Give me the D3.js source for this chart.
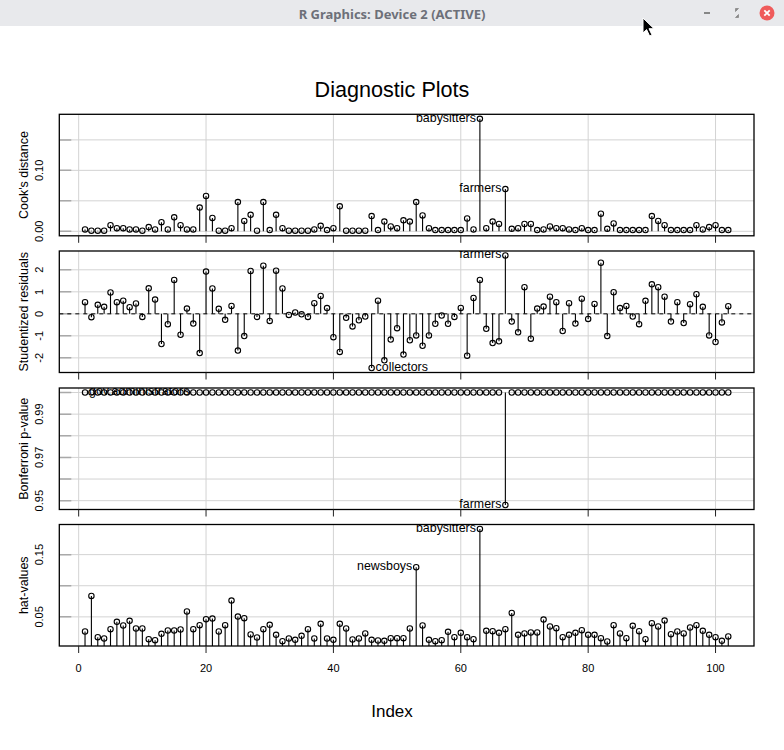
<!DOCTYPE html>
<html><head><meta charset="utf-8">
<script src="https://cdn.jsdelivr.net/npm/d3@7"></script>
<style>body{margin:0;background:#fff;overflow:hidden}</style>
</head><body>
<svg id="c" width="784" height="750"></svg>
<script>
// ---- data (observation index 1..102) ----
const cook = [0.003,0.001,0.001,0.001,0.010,0.005,0.005,0.003,0.003,0.001,
0.007,0.003,0.015,0.003,0.023,0.010,0.003,0.003,0.039,0.058,
0.022,0.001,0.001,0.005,0.048,0.017,0.027,0.001,0.048,0.002,
0.027,0.005,0.001,0.001,0.001,0.001,0.003,0.009,0.002,0.005,
0.041,0.001,0.001,0.001,0.001,0.025,0.002,0.016,0.008,0.005,
0.018,0.016,0.048,0.026,0.005,0.002,0.002,0.002,0.002,0.002,
0.021,0.003,0.1846,0.005,0.016,0.012,0.0693,0.004,0.005,0.012,
0.012,0.002,0.003,0.008,0.005,0.005,0.003,0.002,0.005,0.002,
0.002,0.029,0.004,0.013,0.002,0.002,0.002,0.002,0.002,0.025,
0.017,0.010,0.002,0.002,0.002,0.002,0.010,0.003,0.007,0.010,
0.002,0.002];
const rstud = [0.53,-0.15,0.41,0.32,0.97,0.53,0.60,0.30,0.47,-0.14,
1.16,0.65,-1.37,-0.47,1.54,-0.95,0.24,-0.44,-1.78,1.92,
1.15,0.23,-0.27,0.36,-1.67,-1.01,1.95,-0.14,2.19,-0.32,
1.96,1.15,-0.05,0.06,-0.02,-0.14,0.48,0.81,0.26,-1.06,
-1.73,-0.18,-0.57,-0.29,-0.12,-2.46,0.60,-2.11,-1.17,-0.65,
-1.85,-1.20,-0.98,-1.45,-0.98,-0.45,-0.08,-0.45,-0.14,0.27,
-1.90,0.72,1.54,-0.68,-1.33,-1.25,2.65,-0.35,-0.84,1.21,
-1.13,0.24,0.33,0.78,0.53,-0.78,0.48,-0.44,0.69,-0.23,
0.45,2.32,-1.01,0.98,0.26,0.36,-0.12,-0.47,0.59,1.34,
1.21,0.78,-0.35,0.53,-0.42,0.44,0.89,0.32,-0.98,-1.28,
-0.39,0.35];
const bonf = [1,1,1,1,1,1,1,1,1,1,
1,1,1,1,1,1,1,1,1,1,
1,1,1,1,1,1,1,1,1,1,
1,1,1,1,1,1,1,1,1,1,
1,1,1,1,1,1,1,1,1,1,
1,1,1,1,1,1,1,1,1,1,
1,1,1,1,1,1,0.948,1,1,1,
1,1,1,1,1,1,1,1,1,1,
1,1,1,1,1,1,1,1,1,1,
1,1,1,1,1,1,1,1,1,1,
1,1];
const hat = [0.0265,0.0837,0.0174,0.0152,0.0302,0.0420,0.0361,0.0436,0.0313,0.0313,
0.0142,0.0126,0.0227,0.0281,0.0281,0.0297,0.0586,0.0302,0.0366,0.0463,
0.0473,0.0265,0.0366,0.0762,0.0505,0.0479,0.0217,0.0168,0.0302,0.0372,
0.0211,0.0110,0.0152,0.0131,0.0195,0.0302,0.0152,0.0388,0.0152,0.0131,
0.0388,0.0313,0.0136,0.0152,0.0233,0.0131,0.0120,0.0115,0.0158,0.0158,
0.0158,0.0313,0.1297,0.0361,0.0131,0.0110,0.0126,0.0260,0.0174,0.0243,
0.0174,0.0142,0.1912,0.0275,0.0270,0.0243,0.0302,0.0564,0.0211,0.0233,
0.0249,0.0249,0.0457,0.0345,0.0318,0.0174,0.0211,0.0243,0.0286,0.0211,
0.0211,0.0158,0.0104,0.0366,0.0233,0.0158,0.0356,0.0270,0.0142,0.0398,
0.0345,0.0441,0.0222,0.0265,0.0233,0.0329,0.0366,0.0275,0.0211,0.0174,
0.0115,0.0185];

const xTicks = [0,20,40,60,80,100];
const xTickLabels = ["0","20","40","60","80","100"];
const cookTicks = [0,0.05,0.10,0.15];
const cookTickLabels = ["0.00","","0.10",""];
const rstudTicks = [-2,-1,0,1,2];
const rstudTickLabels = ["-2","-1","0","1","2"];
const bonfTicks = [0.95,0.96,0.97,0.98,0.99,1.00];
const bonfTickLabels = ["0.95","","0.97","","0.99",""];
const hatTicks = [0.05,0.10,0.15];
const hatTickLabels = ["0.05","","0.15"];

const cookIds = [[63,"babysitters"],[67,"farmers"]];
const rstudIds = [[67,"farmers"],[46,"collectors"]];
const bonfIds = [[67,"farmers"],[1,"gov.administrators"]];
const hatIds = [[63,"babysitters"],[53,"newsboys"]];

const panelNames = ["Cook's distance","Studentized residuals","Bonferroni p-value","hat-values"];
const mainTitle = "Diagnostic Plots";
const xLabel = "Index";

// ---- drawing ----
const svg = d3.select("#c");
const FONT = "'Liberation Sans', Arial, Helvetica, sans-serif";
const n = cook.length;
const idx = d3.range(1, n + 1);

// window title bar
svg.append("rect").attr("x",0).attr("y",0).attr("width",784).attr("height",26).attr("fill","#e8e9ec");
svg.append("text").attr("x",392).attr("y",18.5).attr("text-anchor","middle")
  .attr("font-family","'Noto Sans', 'Open Sans', sans-serif").attr("font-weight","bold")
  .attr("font-size",13).attr("fill","#6d7079").text("R Graphics: Device 2 (ACTIVE)");
svg.append("line").attr("x1",704).attr("x2",710).attr("y1",13).attr("y2",13).attr("stroke","#666").attr("stroke-width",1.5);
svg.append("path").attr("d","M735.5,11.5 l3,-3 h-3 z M738.5,14.5 l-3,3 h3 z").attr("fill","#888").attr("stroke","#888").attr("stroke-width",0.8);
svg.append("circle").attr("cx",767).attr("cy",13).attr("r",7.5).attr("fill","#ef5b5b");
svg.append("path").attr("d","M764.3,10.3 L769.7,15.7 M769.7,10.3 L764.3,15.7").attr("stroke","#fff").attr("stroke-width",1.8);
svg.append("path").attr("d","M643,18 l0,15 l3.6,-3.4 l3,6.4 l2.4,-1.1 l-3,-6.2 l5,0 z")
  .attr("fill","#000").attr("stroke","#fff").attr("stroke-width",1);

const L = 59.3, R = 754;
const tops = [114.3, 251, 388, 524.5];
const H = 121.5;

const x = d3.scaleLinear().domain([1 - 0.04*(n-1), n + 0.04*(n-1)]).range([L, R]);

const panels = [
  {v: cook, ticks: cookTicks, labels: cookTickLabels, ids: cookIds, zeroMin: true, base: 0},
  {v: rstud, ticks: rstudTicks, labels: rstudTickLabels, ids: rstudIds, base: 0, dash: true},
  {v: bonf, ticks: bonfTicks, labels: bonfTickLabels, ids: bonfIds, base: 1},
  {v: hat, ticks: hatTicks, labels: hatTickLabels, ids: hatIds, base: 0}
];

panels.forEach((p, k) => {
  const top = tops[k], bot = top + H;
  let lo = p.zeroMin ? 0 : d3.min(p.v), hi = d3.max(p.v);
  const pad = 0.04 * (hi - lo);
  const y = d3.scaleLinear().domain([lo - pad, hi + pad]).range([bot, top]);
  const g = svg.append("g");
  const cid = "clip" + k;
  svg.append("clipPath").attr("id", cid).append("rect").attr("x",L).attr("y",top).attr("width",R-L).attr("height",H);
  const inner = g.append("g").attr("clip-path", `url(#${cid})`);

  // grid
  inner.selectAll(".gv").data(xTicks).join("line")
    .attr("x1", d => x(d)).attr("x2", d => x(d)).attr("y1", top).attr("y2", bot)
    .attr("stroke","#d3d3d3").attr("stroke-width",1);
  inner.selectAll(".gh").data(p.ticks).join("line")
    .attr("x1", L).attr("x2", R).attr("y1", d => y(d)).attr("y2", d => y(d))
    .attr("stroke","#d3d3d3").attr("stroke-width",1);
  // y tick marks (inside)
  inner.selectAll(".yt").data(p.ticks).join("line")
    .attr("x1", L).attr("x2", L + 12).attr("y1", d => y(d)).attr("y2", d => y(d))
    .attr("stroke","#a9a9a9").attr("stroke-width",1.5);

  if (p.dash) {
    inner.append("line").attr("x1",L).attr("x2",R).attr("y1",y(0)).attr("y2",y(0))
      .attr("stroke","#000").attr("stroke-width",1).attr("stroke-dasharray","4,4");
  }
  // spikes
  inner.selectAll(".sp").data(idx).join("line")
    .attr("x1", i => x(i)).attr("x2", i => x(i))
    .attr("y1", y(p.base)).attr("y2", i => y(p.v[i-1]))
    .attr("stroke","#000").attr("stroke-width",1.1);
  // points
  inner.selectAll(".pt").data(idx).join("circle")
    .attr("cx", i => x(i)).attr("cy", i => y(p.v[i-1])).attr("r", 2.7)
    .attr("fill","none").attr("stroke","#000").attr("stroke-width",1.1);
  // id labels
  const mid = (1 + n) / 2;
  inner.selectAll(".lb").data(p.ids).join("text")
    .attr("x", d => d[0] > mid ? x(d[0]) - 4 : x(d[0]) + 4)
    .attr("y", d => y(p.v[d[0]-1])).attr("dy","0.24em")
    .attr("text-anchor", d => d[0] > mid ? "end" : "start")
    .attr("font-family", FONT).attr("font-size", 12.4).attr("fill","#000")
    .text(d => d[1]);

  // box
  g.append("rect").attr("x",L).attr("y",top).attr("width",R-L).attr("height",H)
    .attr("fill","none").attr("stroke","#000").attr("stroke-width",1.3);
  // x ticks
  g.selectAll(".xt").data(xTicks).join("line")
    .attr("x1", d => x(d)).attr("x2", d => x(d)).attr("y1", bot).attr("y2", bot + 7)
    .attr("stroke","#222").attr("stroke-width",1);
  // y tick labels
  g.selectAll(".yl").data(p.ticks.map((t, j) => [t, p.labels[j]]).filter(d => d[1] !== "")).join("text")
    .attr("transform", d => `translate(43.3,${y(d[0])}) rotate(-90)`)
    .attr("text-anchor","middle").attr("font-family",FONT).attr("font-size",11).attr("fill","#000")
    .text(d => d[1]);
  // y axis title
  g.append("text").attr("transform", `translate(28.3,${top + H/2}) rotate(-90)`)
    .attr("text-anchor","middle").attr("font-family",FONT).attr("font-size",12.5).attr("fill","#000")
    .text(panelNames[k]);

  if (k === panels.length - 1) {
    g.selectAll(".xl").data(xTicks).join("text")
      .attr("x", d => x(d)).attr("y", 672).attr("text-anchor","middle")
      .attr("font-family",FONT).attr("font-size",11).attr("fill","#000")
      .text((d, j) => xTickLabels[j]);
  }
});

svg.append("text").attr("x",392).attr("y",96.7).attr("text-anchor","middle")
  .attr("font-family",FONT).attr("font-size",21.6).attr("fill","#000").text(mainTitle);
svg.append("text").attr("x",392).attr("y",717).attr("text-anchor","middle")
  .attr("font-family",FONT).attr("font-size",17).attr("fill","#000").text(xLabel);
</script>
</body></html>
